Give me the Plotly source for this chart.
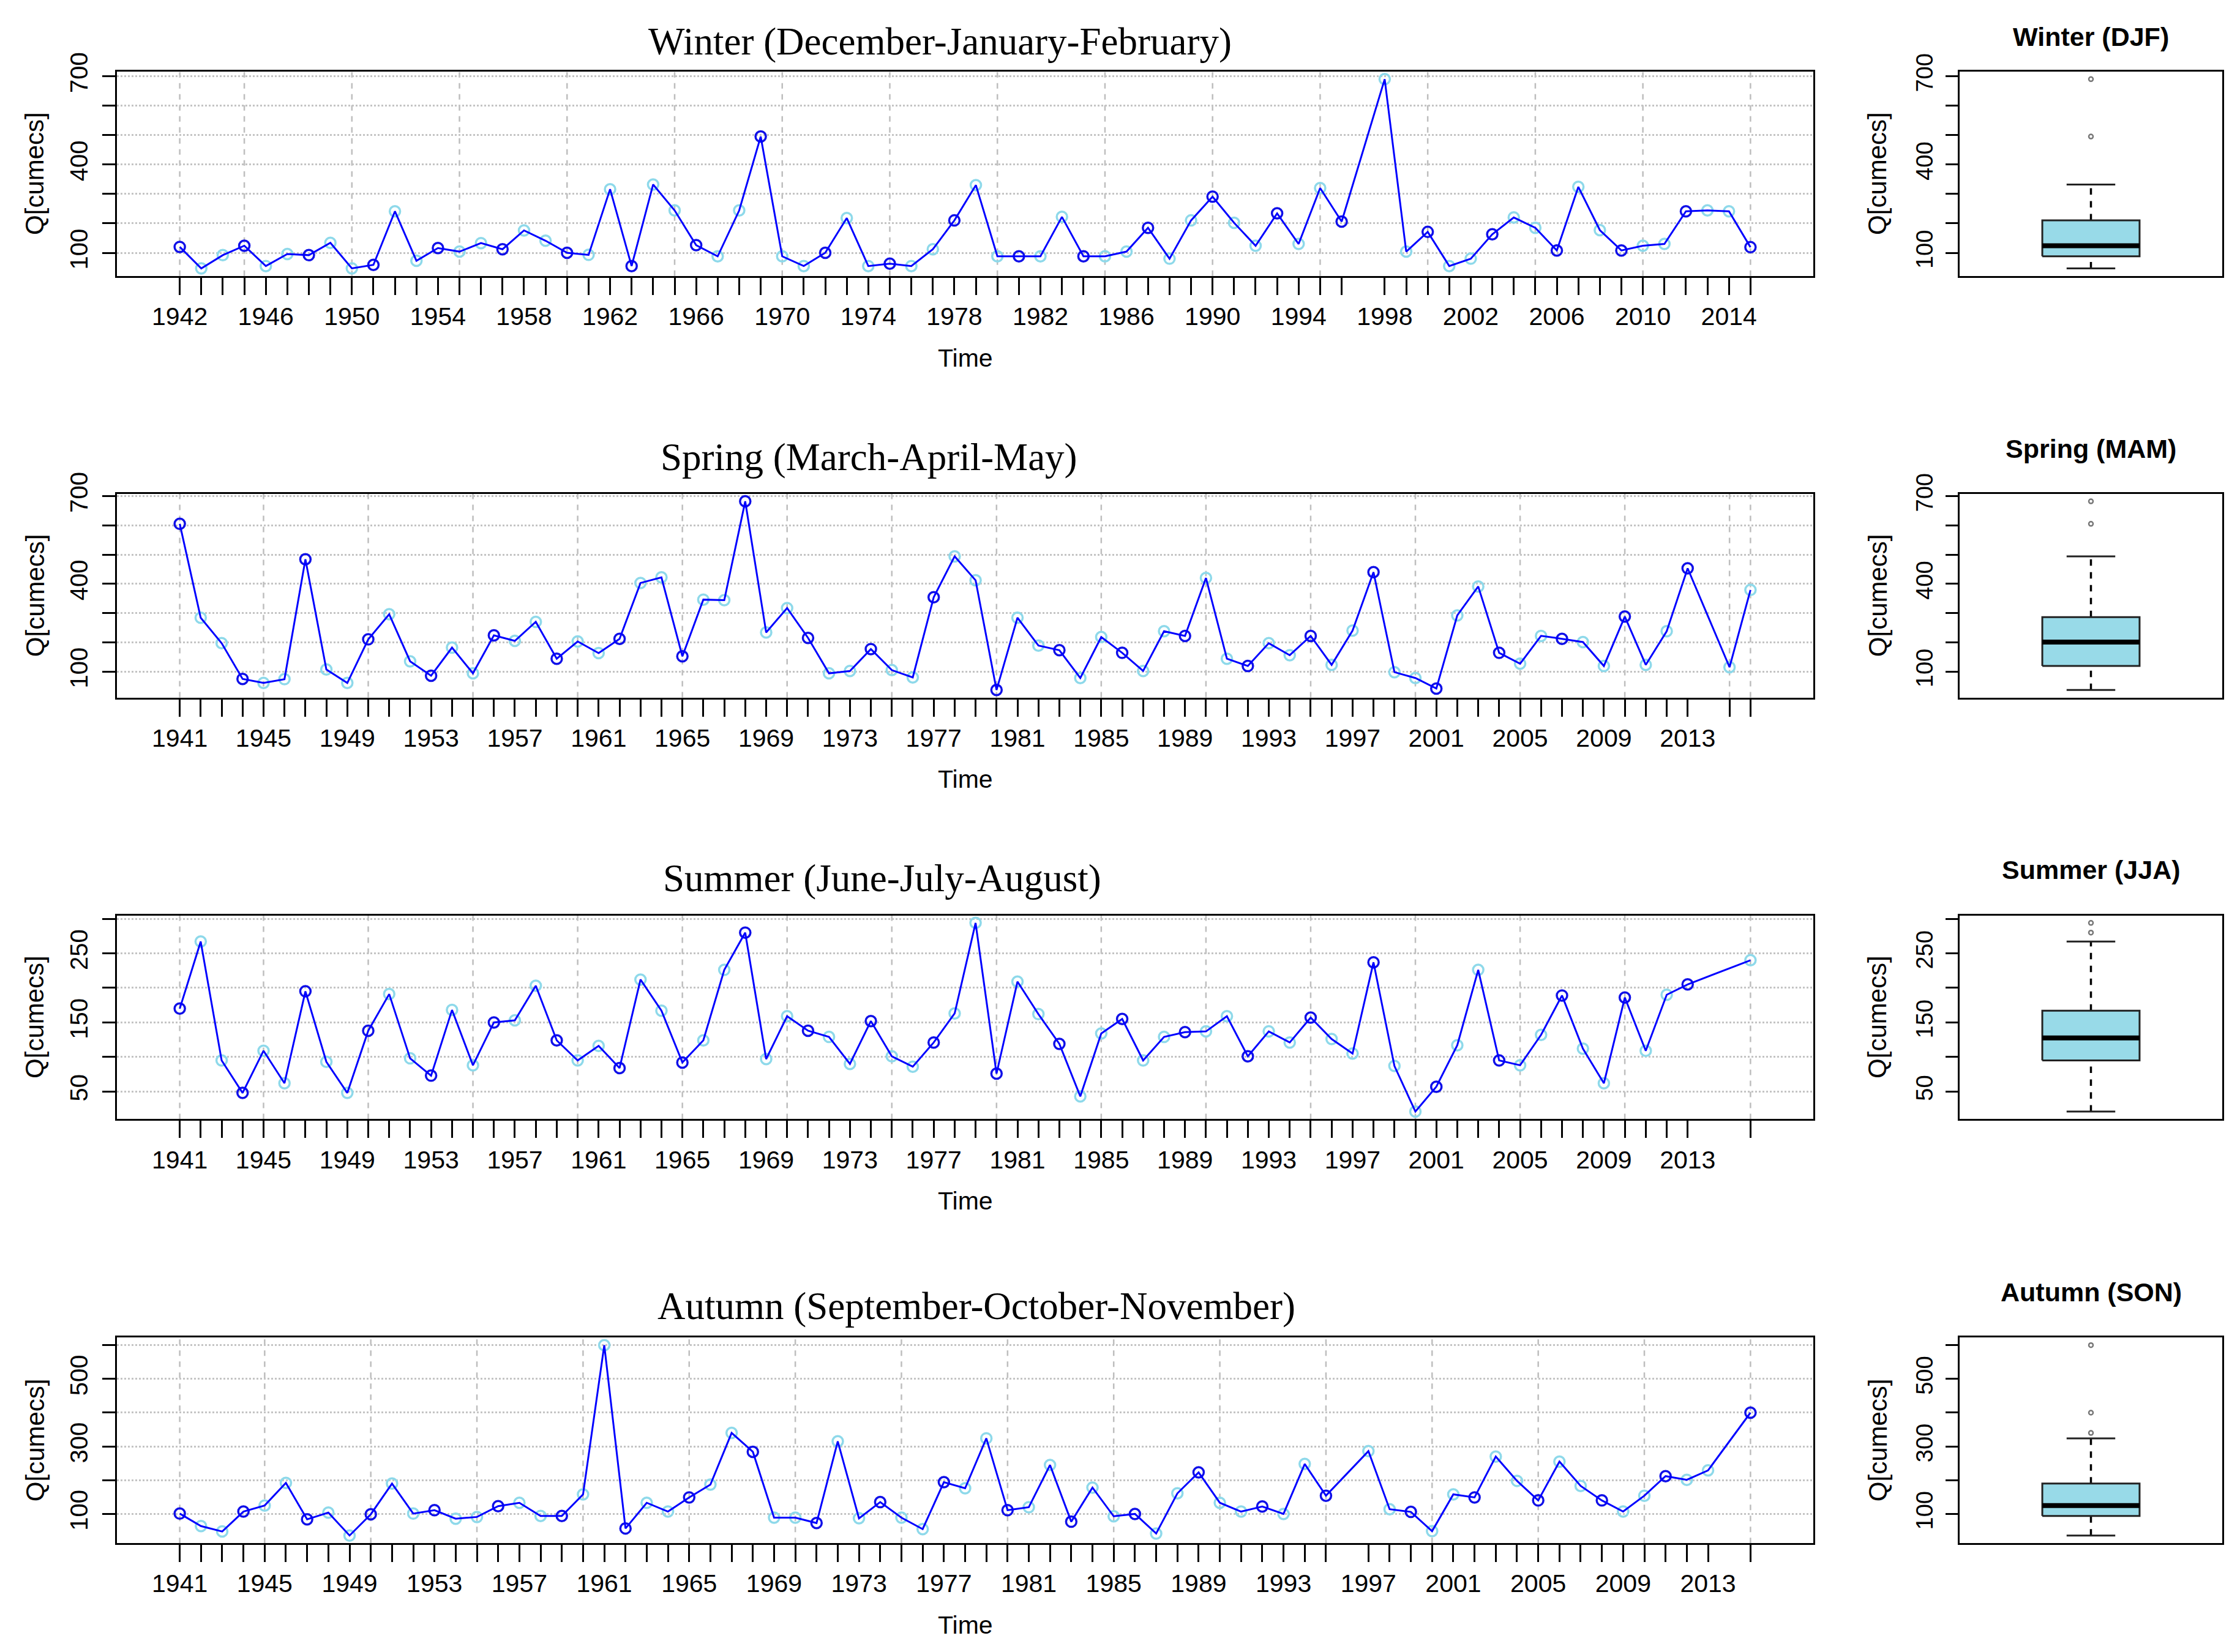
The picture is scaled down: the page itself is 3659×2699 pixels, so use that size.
import numpy as np
import plotly.graph_objects as go

# ---------------- data ----------------
winter_years = [y for y in range(1942, 2016) if y != 1997]
winter_q = [120, 47, 92, 124, 55, 96, 92, 134, 47, 59,
            241, 73, 116, 104, 133, 112, 176, 141, 100, 93,
            316, 55, 332, 244, 126, 88, 244, 495, 88, 55,
            100, 218, 55, 63, 55, 112, 210, 330, 88, 88,
            88, 222, 88, 88, 104, 185, 80, 210, 291, 202,
            124, 234, 130, 320, 206,
            690, 104, 171, 55, 80, 163, 220, 185, 108, 324,
            177, 108, 124, 130, 241, 244, 241, 119]

spring_years = [y for y in range(1941, 2017) if y != 2014]
spring_q = [605, 284, 197, 75, 61, 74, 484, 107, 61, 210,
            296, 135, 86, 182, 94, 224, 205, 270, 144, 203,
            163, 212, 403, 422, 152, 346, 344, 682, 234, 317,
            215, 94, 102, 177, 105, 80, 354, 494, 412, 37,
            284, 189, 173, 78, 218, 164, 102, 238, 222, 420,
            144, 119, 197, 156, 222, 123, 240, 440, 98, 78,
            42, 292, 391, 164, 127, 222, 212, 201, 119, 288,
            123, 238, 453,
            115, 379]

summer_years = [y for y in range(1941, 2017) if y not in (2014, 2015)]
summer_q = [170, 267, 95, 48, 109, 62, 195, 93, 48, 138,
            191, 98, 73, 168, 88, 150, 153, 203, 124, 95,
            116, 84, 212, 167, 92, 124, 226, 280, 97, 159,
            138, 129, 90, 152, 101, 86, 121, 163, 294, 76,
            209, 162, 119, 43, 134, 155, 95, 129, 136, 137,
            159, 101, 137, 121, 157, 126, 105, 237, 87, 21,
            57, 117, 226, 95, 88, 132, 189, 112, 62, 186,
            109, 190, 205,
            240]

autumn_years = [y for y in range(1941, 2016) if y not in (1996, 2014)]
autumn_q = [101, 64, 48, 107, 125, 192, 84, 104, 36, 99,
            190, 101, 111, 86, 91, 123, 133, 94, 94, 158,
            600, 57, 133, 107, 149, 187, 340, 284, 89, 89,
            73, 315, 87, 135, 89, 55, 194, 176, 324, 111,
            120, 245, 77, 178, 93, 100, 42, 161, 223, 133,
            107, 122, 100, 248, 154,
            286, 114, 106, 49, 158, 149, 270, 198, 140, 255,
            183, 140, 107, 154, 212, 201, 229,
            400]

titles = ["Winter (December-January-February)", "Spring (March-April-May)",
          "Summer (June-July-August)", "Autumn (September-October-November)"]
box_titles = ["Winter (DJF)", "Spring (MAM)", "Summer (JJA)", "Autumn (SON)"]
y_ticks = [[100, 200, 300, 400, 500, 600, 700],
           [100, 200, 300, 400, 500, 600, 700],
           [50, 100, 150, 200, 250, 300],
           [100, 200, 300, 400, 500, 600]]
y_labels = [[100, 400, 700], [100, 400, 700], [50, 150, 250], [100, 300, 500]]

series = [(winter_years, winter_q), (spring_years, spring_q),
          (summer_years, summer_q), (autumn_years, autumn_q)]

# ---------------- layout geometry (target pixels on the photographed page) ----------------
W, H = 3659, 2699
bands = [(112, 446), (802, 1135), (1491, 1824), (2181, 2517)]
title_left = [1057, 1077, 1081, 1072]
title_cy = [63, 742, 1430, 2130]
box_title_cy = [37, 728, 1416, 2107]
time_cy = [580, 1268, 1958, 2651]
ts_x = (191, 2962)
bx_x = (3201, 3630)

# page offset / scale observed in the photographed page
OFF_X, OFF_Y, SC_Y = 8, 39, 0.987

FONT = "Liberation Sans, Arial, sans-serif"
SERIF = "Liberation Serif, Times New Roman, serif"


def fx(p):
    return (p - OFF_X) / W


def fy(p):
    v = 1 - ((p - OFF_Y) / SC_Y) / H
    return min(v, 1.0)


def rng(v):
    lo, hi = min(v), max(v)
    d = 0.04 * (hi - lo)
    return [lo - d, hi + d]


def fivenum(x):
    x = np.sort(np.asarray(x, float))
    n = len(x)
    n4 = np.floor((n + 3) / 2) / 2
    d = np.array([1, n4, (n + 1) / 2, n + 1 - n4, n]) - 1
    return 0.5 * (x[np.floor(d).astype(int)] + x[np.ceil(d).astype(int)])


fig = go.Figure()
shapes = []
annotations = []
layout_axes = {}

for i, (years, q) in enumerate(series):
    ts_k = 2 * i + 1
    bx_k = 2 * i + 2
    xs = "" if ts_k == 1 else str(ts_k)
    xb = str(bx_k)
    y0p, y1p = bands[i]
    ydom = [fy(y1p), fy(y0p)]
    yr = rng(q)
    xr = rng(years)

    # ---- time series ----
    colors = ["#1010E8" if j % 3 == 0 else "#8ED9EA" for j in range(len(years))]
    fig.add_trace(go.Scatter(x=years, y=q, mode="markers", xaxis="x" + xs, yaxis="y" + xs,
                             marker=dict(symbol="circle-open", size=17, color=colors,
                                         line=dict(width=3.5)),
                             showlegend=False, hoverinfo="skip"))
    fig.add_trace(go.Scatter(x=years, y=q, mode="lines", xaxis="x" + xs, yaxis="y" + xs,
                             line=dict(color="#0000FF", width=3), showlegend=False))

    first_year = years[0]
    tick_text = [str(y) if (y - first_year) % 4 == 0 else "" for y in years]
    layout_axes["xaxis" + xs] = dict(
        domain=[fx(ts_x[0]), fx(ts_x[1])], anchor="y" + xs, range=xr,
        tickmode="array", tickvals=years, ticktext=tick_text,
        ticks="outside", ticklen=28, tickwidth=2.5, tickcolor="black",
        showgrid=False, zeroline=False, showline=True, mirror=True,
        linecolor="black", linewidth=3,
        tickfont=dict(family=FONT, size=41, color="black"), tickangle=0)
    layout_axes["yaxis" + xs] = dict(
        domain=ydom, anchor="x" + xs, range=yr,
        tickmode="array", tickvals=y_ticks[i],
        ticktext=[str(t) if t in y_labels[i] else "" for t in y_ticks[i]],
        ticks="outside", ticklen=21, tickwidth=2.5, tickcolor="black",
        showgrid=True, griddash="dot", gridcolor="#C4C4C4", gridwidth=2.5,
        zeroline=False, showline=True, mirror=True, linecolor="black", linewidth=3,
        tickfont=dict(family=FONT, size=40, color="black"), tickangle=-90,
        ticklabelstandoff=8)

    for y in years:
        if y % 5 == 0 or y == years[0] or y == years[-1]:
            shapes.append(dict(type="line", xref="x" + xs, yref="y" + xs + " domain",
                               x0=y, x1=y, y0=0, y1=1, layer="below",
                               line=dict(color="#BEBEBE", width=2.5, dash="dash")))

    # ---- box plot (R boxplot statistics) ----
    s = fivenum(q)
    iqr = s[3] - s[1]
    qa = np.asarray(q, float)
    inside = qa[(qa >= s[1] - 1.5 * iqr) & (qa <= s[3] + 1.5 * iqr)]
    lw, uw = inside.min(), inside.max()
    outl = qa[(qa < s[1] - 1.5 * iqr) | (qa > s[3] + 1.5 * iqr)]
    bx_axes = dict(xaxis="x" + xb, yaxis="y" + xb, showlegend=False, hoverinfo="skip")
    fig.add_trace(go.Scatter(x=[1, 1], y=[s[3], uw], mode="lines",
                             line=dict(color="black", width=3.5, dash="dash"), **bx_axes))
    fig.add_trace(go.Scatter(x=[1, 1], y=[lw, s[1]], mode="lines",
                             line=dict(color="black", width=3.5, dash="dash"), **bx_axes))
    fig.add_trace(go.Scatter(x=[0.9, 1.1], y=[uw, uw], mode="lines",
                             line=dict(color="#222222", width=3), **bx_axes))
    fig.add_trace(go.Scatter(x=[0.9, 1.1], y=[lw, lw], mode="lines",
                             line=dict(color="#222222", width=3), **bx_axes))
    fig.add_trace(go.Scatter(x=[0.8, 1.2, 1.2, 0.8, 0.8], y=[s[1], s[1], s[3], s[3], s[1]],
                             mode="lines", fill="toself", fillcolor="#98DAE8",
                             line=dict(color="#222222", width=3), **bx_axes))
    fig.add_trace(go.Scatter(x=[0.8, 1.2], y=[s[2], s[2]], mode="lines",
                             line=dict(color="black", width=8), **bx_axes))
    fig.add_trace(go.Scatter(x=[1] * len(outl), y=outl, mode="markers",
                             marker=dict(symbol="circle-open", size=7, color="#777777",
                                         line=dict(width=2.5)), **bx_axes))
    layout_axes["xaxis" + xb] = dict(
        domain=[fx(bx_x[0]), fx(bx_x[1])], anchor="y" + xb, range=[0.46, 1.54],
        showticklabels=False, ticks="", showgrid=False, zeroline=False,
        showline=True, mirror=True, linecolor="black", linewidth=3)
    layout_axes["yaxis" + xb] = dict(
        domain=ydom, anchor="x" + xb, range=yr,
        tickmode="array", tickvals=y_ticks[i],
        ticktext=[str(t) if t in y_labels[i] else "" for t in y_ticks[i]],
        ticks="outside", ticklen=20, tickwidth=2.5, tickcolor="black",
        showgrid=False, zeroline=False, showline=True, mirror=True,
        linecolor="black", linewidth=3,
        tickfont=dict(family=FONT, size=38, color="black"), tickangle=-90,
        ticklabelstandoff=6)

    # ---- texts ----
    if i == 0:
        t_y, t_anchor = 1.005, "top"
        b_y, b_anchor = 1.0038, "top"
    else:
        t_y, t_anchor = fy(title_cy[i]), "middle"
        b_y, b_anchor = fy(box_title_cy[i]), "middle"
    annotations.append(dict(text=titles[i], xref="paper", yref="paper",
                            x=fx(title_left[i]), y=t_y, xanchor="left",
                            yanchor=t_anchor, showarrow=False,
                            font=dict(family=SERIF, size=63, color="black")))
    annotations.append(dict(text="<b>" + box_titles[i] + "</b>", xref="paper", yref="paper",
                            x=fx((bx_x[0] + bx_x[1]) / 2), y=b_y,
                            xanchor="center", yanchor=b_anchor, showarrow=False,
                            font=dict(family=FONT, size=43, color="black")))
    annotations.append(dict(text="Time", xref="paper", yref="paper",
                            x=fx((ts_x[0] + ts_x[1]) / 2), y=fy(time_cy[i]),
                            xanchor="center", yanchor="middle", showarrow=False,
                            font=dict(family=FONT, size=41, color="black")))
    for cx in (57, 3067):
        annotations.append(dict(text="Q[cumecs]", xref="paper", yref="paper",
                                x=fx(cx), y=fy((y0p + y1p) / 2), textangle=-90,
                                xanchor="center", yanchor="middle", showarrow=False,
                                font=dict(family=FONT, size=42, color="black")))

fig.update_layout(width=W, height=H, margin=dict(l=0, r=0, t=0, b=0),
                  paper_bgcolor="white", plot_bgcolor="white",
                  shapes=shapes, annotations=annotations, **layout_axes)

fig.write_html("out.html")
